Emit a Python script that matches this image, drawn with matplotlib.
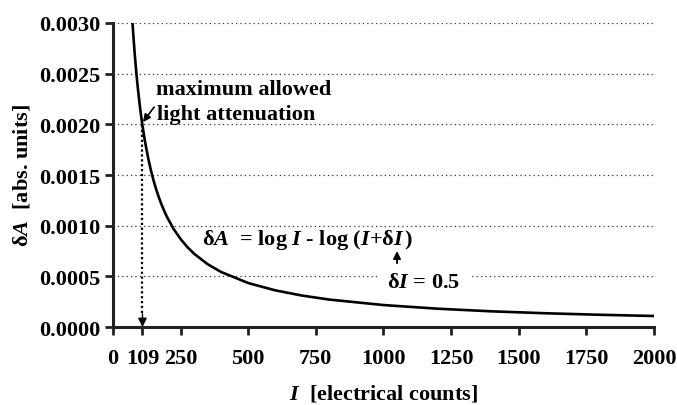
import matplotlib
matplotlib.use("Agg")
import matplotlib.pyplot as plt

plt.rcParams['font.family'] = ['Liberation Serif', 'DejaVu Serif']
plt.rcParams['font.weight'] = 'bold'
plt.rcParams['mathtext.fontset'] = 'custom'
plt.rcParams['mathtext.rm'] = 'Liberation Serif:bold'
plt.rcParams['mathtext.it'] = 'Liberation Serif:bold:italic'
plt.rcParams['mathtext.bf'] = 'Liberation Serif:bold'

# Curve values
intensity = [72, 75, 80, 85, 90, 95, 100, 105, 109, 115, 120, 130, 140, 150, 160,
             170, 180, 190, 200, 225, 250, 275, 300, 350, 400, 500, 600, 700, 800,
             1000, 1200, 1400, 1600, 1800, 2000]
delta_a = [0.003005, 0.002886, 0.002706, 0.002548, 0.002406, 0.002280, 0.002166,
           0.002063, 0.001988, 0.001885, 0.001806, 0.001668, 0.001548, 0.001445,
           0.001355, 0.001276, 0.001205, 0.001142, 0.001084, 0.000964, 0.000868,
           0.000789, 0.000723, 0.000620, 0.000543, 0.000434, 0.000362, 0.000310,
           0.000271, 0.000217, 0.000181, 0.000155, 0.000136, 0.000121, 0.000109]

x_ticks = [0, 109, 250, 500, 750, 1000, 1250, 1500, 1750, 2000]
x_tick_labels = ["0", "109", "250", "500", "750", "1000", "1250", "1500", "1750", "2000"]
y_ticks = [0.0, 0.0005, 0.0010, 0.0015, 0.0020, 0.0025, 0.0030]
y_tick_labels = ["0.0000", "0.0005", "0.0010", "0.0015", "0.0020", "0.0025", "0.0030"]

marker_i = 109
marker_a = 0.00199

fig = plt.figure(figsize=(6.77, 4.06), dpi=100)
ax = fig.add_axes([0.1669, 0.192, 0.7991, 0.749])

for yv in y_ticks[1:]:
    ax.axhline(yv, color='#333333', lw=0.9, ls=(0, (1, 2.5)), zorder=1)

ax.plot(intensity, delta_a, color='black', lw=1.9, zorder=3, solid_capstyle='butt')

# dotted vertical marker with arrowhead
ax.plot([marker_i, marker_i], [marker_a, 0.00012], color='black', lw=1.6,
        ls=(0, (1, 1.2)), zorder=2)
ax.annotate('', xy=(marker_i, 0.0), xytext=(marker_i, 0.00013),
            arrowprops=dict(arrowstyle='-|>', color='black', lw=1.0,
                            mutation_scale=13, shrinkA=0, shrinkB=0), zorder=4)

fs = 16

ax.set_xlim(0, 2000)
ax.set_ylim(0, 0.003)
ax.set_xticks(x_ticks)
ax.set_xticklabels(x_tick_labels)
ax.set_yticks(y_ticks)
ax.set_yticklabels(y_tick_labels)
ax.tick_params(axis='both', direction='out', length=6, width=2, labelsize=fs,
               color='#222222', pad=3)
ax.tick_params(axis='x', pad=9)
for s in ['top', 'right']:
    ax.spines[s].set_visible(False)
for s in ['left', 'bottom']:
    ax.spines[s].set_linewidth(2.2)
    ax.spines[s].set_color('#222222')
    ax.spines[s].set_capstyle('projecting')

ax.set_xlabel("$I$  [electrical counts]", fontsize=fs, fontweight='bold', labelpad=10.5)
ax.set_ylabel("δ$A$  [abs. units]", fontsize=fs, fontweight='bold', labelpad=5)

ax.text(159, 0.002299, "maximum allowed", fontsize=fs, fontweight='bold', va='baseline', ha='left', zorder=5)
ax.text(163, 0.002053, "light attenuation", fontsize=fs, fontweight='bold', va='baseline', ha='left', zorder=5)
ax.annotate('', xy=(111, 0.002023), xytext=(152, 0.002170),
            arrowprops=dict(arrowstyle='-|>', color='black', lw=1.2,
                            mutation_scale=11, shrinkA=0, shrinkB=0), zorder=5)

ax.text(329, 0.000819, r"δ$A$  = log $I$ - log ($I$+δ$I\,$)", fontsize=fs, fontweight='bold',
        va='baseline', ha='left', zorder=5)
ax.text(1013, 0.000395, "δ$I$ = 0.5", fontsize=fs, fontweight='bold', va='baseline', ha='left',
        zorder=5, bbox=dict(facecolor='white', edgecolor='none', pad=7))
ax.annotate('', xy=(1050, 0.000750), xytext=(1050, 0.000630),
            arrowprops=dict(arrowstyle='-|>', color='black', lw=1.3,
                            mutation_scale=11, shrinkA=0, shrinkB=0), zorder=5)

fig.savefig("out.png", dpi=100)
